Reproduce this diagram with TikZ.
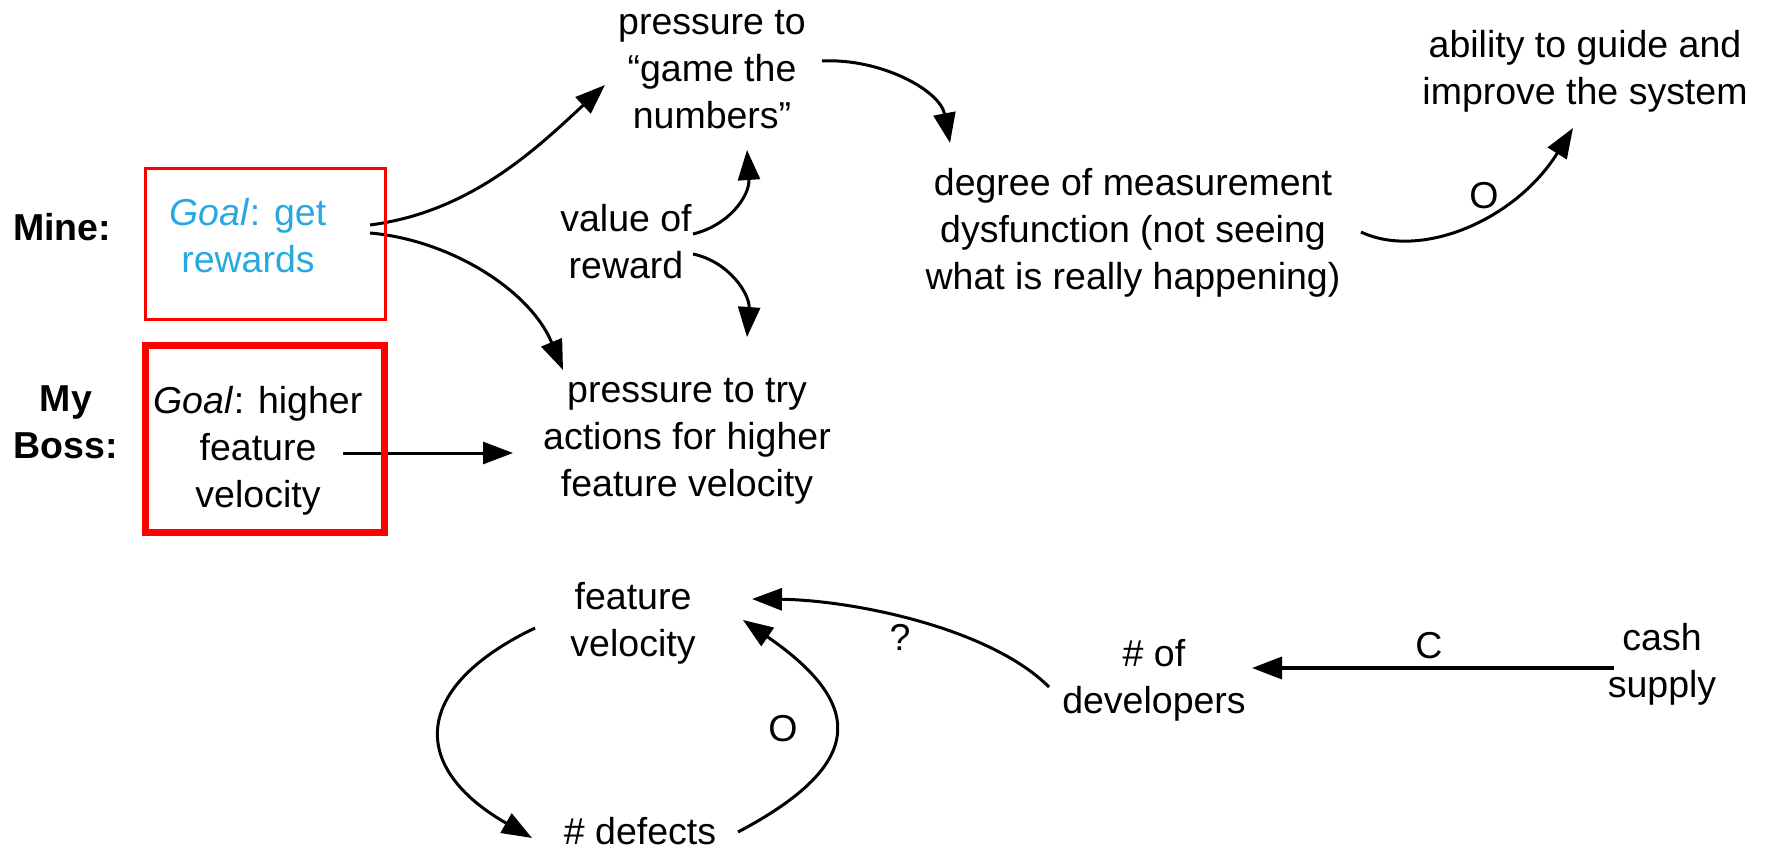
\documentclass[tikz,border=0pt]{standalone}
\usepackage{fontspec}
\setmainfont{Liberation Sans}
\usetikzlibrary{arrows.meta}
\definecolor{goalblue}{RGB}{40,168,224}
\definecolor{boxred}{RGB}{255,0,0}
\newcommand{\dfont}{\fontsize{37.5}{47}\selectfont}
\begin{document}
\begin{tikzpicture}[x=1pt,y=-1pt,
  lbl/.style={font=\dfont, align=center, inner sep=0pt},
  tag/.style={font=\dfont\bfseries, align=center, inner sep=0pt},
  letr/.style={font=\dfont, inner sep=0pt},
  conn/.style={line width=3pt, -{Triangle[length=30pt,width=22pt]}},
  goalbox/.style={draw=boxred, inner sep=0pt},
]
\useasboundingbox (0,0) rectangle (1765,853);

% labels on the left
\node[tag] (mine) at (62,231.6) {\strut Mine:\strut};
\node[tag] (boss) at (66,426) {\strut My\\Boss:\strut};

% goal texts
\node[lbl, text=goalblue] (minegoal) at (248,239.6) {\strut\textit{Goal}: get\\rewards\strut};
\node[lbl] (bossgoal) at (258,450.6) {\strut\textit{Goal}: higher\\feature\\velocity\strut};

% variables
\node[lbl] (game) at (712,72) {\strut pressure to\\“game the\\numbers”\strut};
\node[lbl] (value) at (626,245.6) {\strut value of\\reward\strut};
\node[lbl] (try) at (687,439.6) {\strut pressure to try\\actions for higher\\feature velocity\strut};
\node[lbl] (degree) at (1133,232.6) {\strut degree of measurement\\dysfunction (not seeing\\what is really happening)\strut};
\node[lbl] (ability) at (1585,72) {\strut ability to guide and\\improve the system\strut};
\node[lbl] (feat) at (633,623.1) {\strut feature\\velocity\strut};
\node[letr, anchor=base] (defects) at (640,844) {\# defects};
\node[lbl] (devs) at (1154,681) {\strut\# of\\developers\strut};
\node[lbl] (cash) at (1662,665) {\strut cash\\supply\strut};

% link labels
\node[letr] (otop) at (1484,196) {O};
\node[letr] (oloop) at (783,728.5) {O};
\node[letr] (qlab) at (900,637) {?};
\node[letr] (clab) at (1429,646) {C};

% connectors
\draw[conn] ([shift={(122,-14.6)}]minegoal.center) .. controls +(100,-13) and +(-70,65) .. ([shift={(-107,13)}]game.center);
\draw[conn] ([shift={(122,-6.6)}]minegoal.center) .. controls +(80,7) and +(-33,-80) .. ([shift={(-124,-69.6)}]try.center);
\draw[conn] ([shift={(67,-11.6)}]value.center) .. controls +(37,-9) and +(3,45) .. ([shift={(35,78)}]game.center);
\draw[conn] ([shift={(67,8.4)}]value.center) .. controls +(37,8) and +(3,-42) .. ([shift={(60,-102.6)}]try.center);
\draw[conn] ([shift={(110,-11)}]game.center) .. controls +(58,-3) and +(-10,-53) .. ([shift={(-183,-89.6)}]degree.center);
\draw[conn] ([shift={(228,-0.6)}]degree.center) .. controls +(59,28) and +(-58,93) .. ([shift={(-12,56)}]ability.center);
\draw[conn] ([shift={(85,2.4)}]bossgoal.center) -- ([shift={(-174,13.4)}]try.center);
\draw[conn] ([shift={(-98,4.9)}]feat.center) .. controls +(-125,60) and +(-122,-70) .. ([shift={(-108,-6)}]defects.base);
\draw[conn] ([shift={(98,-12)}]defects.base) .. controls +(125,-66) and +(125,86) .. ([shift={(110,-3.1)}]feat.center);
\draw[conn] ([shift={(-105,6)}]devs.center) .. controls +(-60,-60) and +(98,1) .. ([shift={(119,-24.1)}]feat.center);
\draw[conn, line width=3.5pt] ([shift={(-48,3)}]cash.center) -- ([shift={(98,-13)}]devs.center);

% red boxes (drawn on top)
\node[goalbox, line width=3pt, minimum width=240pt, minimum height=151pt] (minebox) at (265.5,244) {};
\node[goalbox, line width=7pt, minimum width=239pt, minimum height=187pt] (bossbox) at (265,439) {};
\end{tikzpicture}
\end{document}
